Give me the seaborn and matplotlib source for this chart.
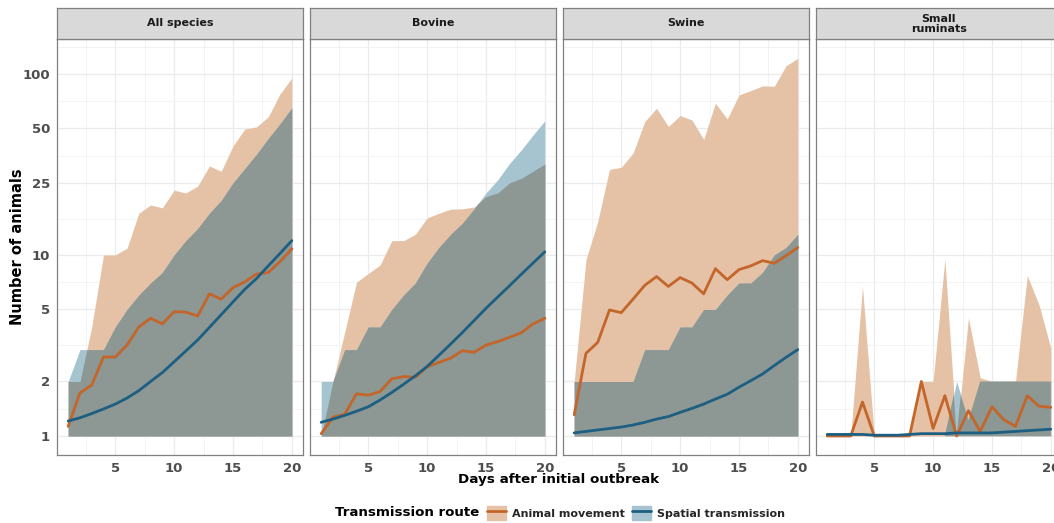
import numpy as np
import pandas as pd
import matplotlib
matplotlib.use("Agg")
import matplotlib.pyplot as plt
import seaborn as sns
from matplotlib.patches import Patch
from matplotlib.lines import Line2D
from matplotlib.legend_handler import HandlerTuple
from matplotlib.ticker import FixedLocator, NullFormatter

# ---------------------------------------------------------------- data
days = list(range(1, 21))
species = ["All species", "Bovine", "Swine", "Small\nruminats"]
routes = ["Animal movement", "Spatial transmission"]

# All species
all_move_mean = [1.13, 1.73, 1.91, 2.73, 2.73, 3.18, 4.0, 4.47, 4.16, 4.86,
                 4.83, 4.6, 6.1, 5.7, 6.6, 7.1, 7.85, 8.0, 9.2, 10.8]
all_move_low = [1] * 20
all_move_high = [2, 2, 4, 10, 10, 10.9, 17, 18.9, 18.2, 22.8,
                 22, 24, 31, 29, 40, 49.6, 51, 58, 77.6, 95]
all_spat_mean = [1.21, 1.26, 1.33, 1.41, 1.50, 1.62, 1.78, 2.0, 2.24, 2.57,
                 2.95, 3.39, 3.98, 4.68, 5.5, 6.46, 7.41, 8.71, 10.2, 12.0]
all_spat_low = [1] * 20
all_spat_high = [2, 3, 3, 3, 4, 5, 6, 7, 8, 10,
                 12, 14, 17, 20, 25, 30, 36, 44, 53, 65]

# Bovine
bov_move_mean = [1.03, 1.27, 1.32, 1.71, 1.68, 1.76, 2.07, 2.13, 2.11, 2.41,
                 2.55, 2.69, 2.96, 2.9, 3.18, 3.32, 3.51, 3.72, 4.16, 4.47]
bov_move_low = [1] * 20
bov_move_high = [1, 2, 3.75, 7.07, 7.9, 8.8, 12, 12, 13, 16,
                 17, 17.9, 18, 18.4, 21, 22, 25, 26.5, 29, 31.8]
bov_spat_mean = [1.19, 1.24, 1.30, 1.37, 1.45, 1.58, 1.74, 1.93, 2.15, 2.42,
                 2.79, 3.22, 3.73, 4.35, 5.07, 5.86, 6.76, 7.82, 9.02, 10.4]
bov_spat_low = [1] * 20
bov_spat_high = [2, 2, 3, 3, 4, 4, 5, 6, 7, 9,
                 11, 13, 15, 18, 22, 26, 32, 38, 46, 55]

# Swine
sw_move_mean = [1.31, 2.86, 3.29, 4.97, 4.8, 5.7, 6.8, 7.6, 6.7, 7.5,
                7.0, 6.1, 8.4, 7.3, 8.3, 8.7, 9.3, 9.0, 9.9, 11.0]
sw_move_low = [1] * 20
sw_move_high = [2, 9.4, 15.3, 29.7, 30.5, 36.5, 54.6, 64.6, 51.2, 58.9,
                55.7, 43.5, 68.9, 56.4, 76.5, 80.9, 85.9, 85.5, 111, 122]
sw_spat_mean = [1.04, 1.06, 1.08, 1.10, 1.12, 1.15, 1.19, 1.24, 1.28, 1.35,
                1.42, 1.50, 1.60, 1.70, 1.86, 2.02, 2.2, 2.45, 2.72, 3.0]
sw_spat_low = [1] * 20
sw_spat_high = [2, 2, 2, 2, 2, 2, 3, 3, 3, 4,
                4, 5, 5, 6, 7, 7, 8, 10, 11, 13]

# Small ruminants
sr_move_mean = [1.0, 1.0, 1.0, 1.54, 1.0, 1.0, 1.0, 1.0, 2.0, 1.1,
                1.67, 1.0, 1.38, 1.06, 1.45, 1.23, 1.13, 1.67, 1.46, 1.44]
sr_move_low = [1] * 20
sr_move_high = [1, 1, 1, 6.7, 1, 1, 1, 1, 2, 2,
                9.5, 1, 4.5, 2.1, 2, 2, 2, 7.7, 5.3, 3.05]
sr_spat_mean = [1.02, 1.02, 1.02, 1.02, 1.01, 1.01, 1.01, 1.02, 1.03, 1.03,
                1.03, 1.04, 1.04, 1.04, 1.04, 1.05, 1.06, 1.07, 1.08, 1.09]
sr_spat_low = [1] * 20
sr_spat_high = [1, 1, 1, 1, 1, 1, 1, 1, 1, 1,
                1, 2, 1.22, 2, 2, 2, 2, 2, 2, 2]

y_ticks = [1, 2, 5, 10, 25, 50, 100]
x_ticks = [5, 10, 15, 20]

# ---------------------------------------------------------------- table
series = {
    "All species": (all_move_mean, all_move_low, all_move_high,
                    all_spat_mean, all_spat_low, all_spat_high),
    "Bovine": (bov_move_mean, bov_move_low, bov_move_high,
               bov_spat_mean, bov_spat_low, bov_spat_high),
    "Swine": (sw_move_mean, sw_move_low, sw_move_high,
              sw_spat_mean, sw_spat_low, sw_spat_high),
    "Small\nruminats": (sr_move_mean, sr_move_low, sr_move_high,
                        sr_spat_mean, sr_spat_low, sr_spat_high),
}
rows = []
for sp, (mm, ml, mh, sm, sl, sh) in series.items():
    for r, (m, lo, hi) in zip(routes, [(mm, ml, mh), (sm, sl, sh)]):
        for d, a, b, c in zip(days, m, lo, hi):
            rows.append(dict(species=sp, route=r, day=d, mean=a, low=b, high=c))
df = pd.DataFrame(rows)

# ---------------------------------------------------------------- style
sns.set_theme(style="white")
plt.rcParams["font.family"] = ["DejaVu Sans"]

line_col = {"Animal movement": "#C4652A", "Spatial transmission": "#1D5F82"}
fill_col = {"Animal movement": "#E5C2A6", "Spatial transmission": "#A6C3D0"}
both_col = "#8D9793"
grid_col = "#EBEBEB"
border_col = "#808080"

W, H = 1054, 523
fig = plt.figure(figsize=(W / 100, H / 100), dpi=100)
fig.patch.set_facecolor("white")

left0, pw, gap = 57, 246, 7
top, bot, strip_top = 39, 455, 8

# minor grid positions: midpoints (in log space) between major breaks
ext_ticks = [0.5] + y_ticks + [200]
lg = np.log10(ext_ticks)
y_minor = list(10 ** ((lg[:-1] + lg[1:]) / 2))
x_minor = [2.5, 7.5, 12.5, 17.5]

fine = np.linspace(1, 20, 1901)

for i, sp in enumerate(species):
    x0 = left0 + i * (pw + gap)
    ax = fig.add_axes([x0 / W, (H - bot) / H, pw / W, (bot - top) / H])
    sax = fig.add_axes([x0 / W, (H - top) / H, pw / W, (top - strip_top) / H])

    sub = df[df.species == sp]
    mv = sub[sub.route == routes[0]]
    st = sub[sub.route == routes[1]]

    # ribbons
    ax.fill_between(mv.day, mv.low, mv.high, color=fill_col[routes[0]],
                    lw=0, zorder=2)
    ax.fill_between(st.day, st.low, st.high, color=fill_col[routes[1]],
                    lw=0, zorder=2)
    # region shared by both ribbons (bands are straight in log space)
    lo = np.maximum(np.interp(fine, mv.day, np.log10(mv.low)),
                    np.interp(fine, st.day, np.log10(st.low)))
    hi = np.minimum(np.interp(fine, mv.day, np.log10(mv.high)),
                    np.interp(fine, st.day, np.log10(st.high)))
    ax.fill_between(fine, 10 ** lo, 10 ** hi, where=hi > lo + 1e-9,
                    color=both_col, lw=0, zorder=3)

    # mean lines
    sns.lineplot(data=sub, x="day", y="mean", hue="route", hue_order=routes,
                 palette=line_col, lw=2.0, ax=ax, legend=False, zorder=4)

    ax.set_yscale("log")
    ax.set_xlim(0.05, 20.95)
    ax.set_ylim(10 ** -0.105, 10 ** 2.193)
    ax.yaxis.set_major_locator(FixedLocator(y_ticks))
    ax.yaxis.set_minor_locator(FixedLocator(y_minor))
    ax.yaxis.set_minor_formatter(NullFormatter())
    ax.set_yticks(y_ticks, labels=[str(t) for t in y_ticks], fontweight="bold")
    ax.set_xticks(x_ticks, labels=[str(t) for t in x_ticks], fontweight="bold")
    ax.set_xticks(x_minor, minor=True)

    ax.set_axisbelow(True)
    ax.grid(which="major", color=grid_col, lw=0.9)
    ax.grid(which="minor", color="#F3F3F3", lw=0.7)
    ax.tick_params(which="major", length=3, width=0.6, color="#333333",
                   pad=2, labelsize=9.5, labelcolor="#4D4D4D")
    ax.tick_params(which="minor", length=0)
    if i > 0:
        ax.tick_params(axis="y", which="both", left=False, labelleft=False)
    ax.set_xlabel("")
    ax.set_ylabel("")
    for s in ax.spines.values():
        s.set_color(border_col)
        s.set_linewidth(0.9)
        s.set_zorder(6)

    # facet strip
    sax.set_facecolor("#D9D9D9")
    sax.set_xticks([])
    sax.set_yticks([])
    for s in sax.spines.values():
        s.set_color(border_col)
        s.set_linewidth(0.9)
    sax.text(0.5, 0.5, sp, ha="center", va="center", fontsize=8,
             fontweight="bold", color="#1A1A1A", linespacing=1.0,
             transform=sax.transAxes)

# axis titles
fig.text(559 / W, 1 - 480 / H, "Days after initial outbreak", ha="center",
         va="center", fontsize=9.7, fontweight="bold", color="black")
fig.text(18 / W, 1 - 247 / H, "Number of animals", ha="center", va="center",
         rotation=90, fontsize=10.5, fontweight="bold", color="black")

# legend
fig.text(335 / W, 1 - 513 / H, "Transmission route", ha="left", va="center",
         fontsize=9.6, fontweight="bold", color="black")
handles = [(Patch(facecolor=fill_col[r], edgecolor=fill_col[r]),
            Line2D([], [], color=line_col[r], lw=2.0)) for r in routes]
leg = fig.legend(handles, routes, loc="center left",
                 bbox_to_anchor=(487 / W, 1 - 513 / H), ncol=2, frameon=False,
                 handler_map={tuple: HandlerTuple(ndivide=1, pad=0)},
                 prop=dict(size=8, weight="bold"), handlelength=1.75,
                 handleheight=1.55, handletextpad=0.5, columnspacing=0.6,
                 borderpad=0, borderaxespad=0)

fig.savefig("out.png", dpi=100)
